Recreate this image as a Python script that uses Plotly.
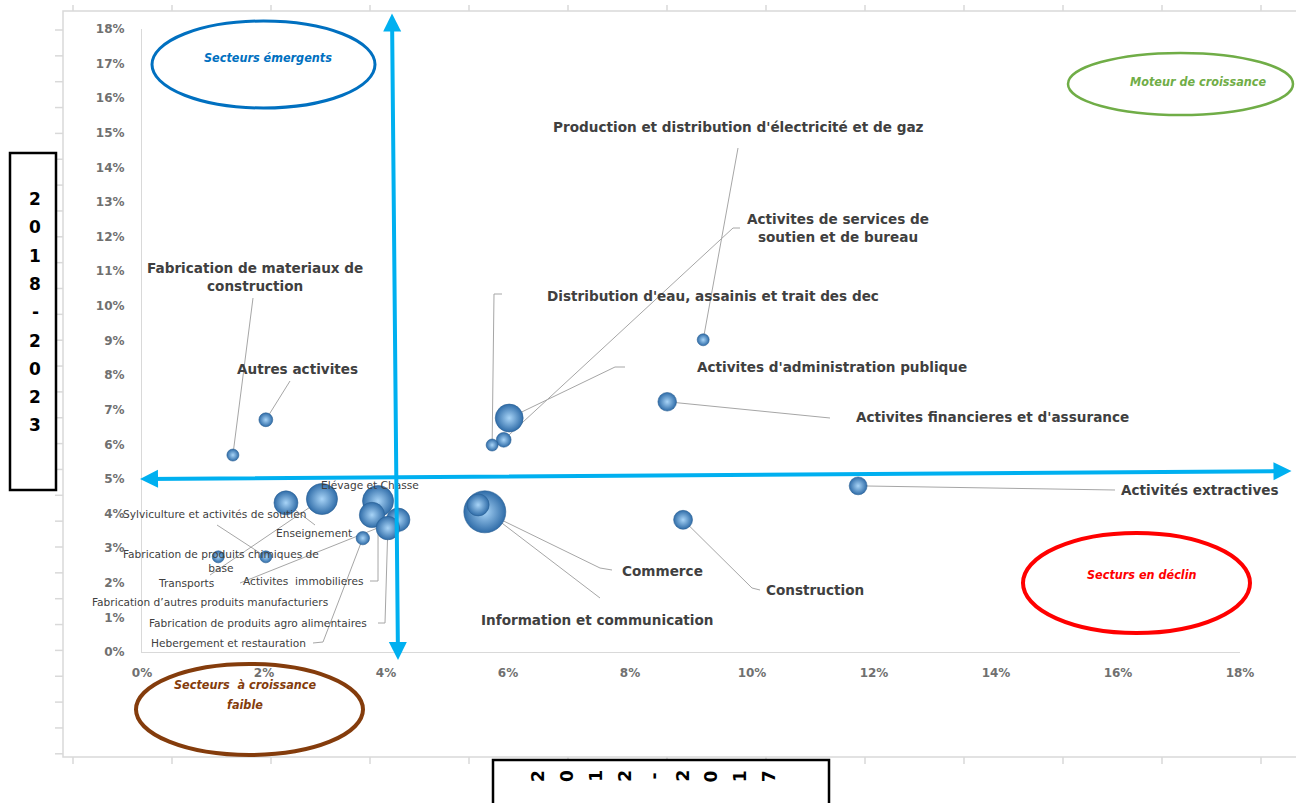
import plotly.graph_objects as go

# ---------------- DATA ----------------
secteurs = [
    "Production et distribution d'électricité et de gaz",
    "Activites de services de soutien et de bureau",
    "Distribution d'eau, assainis et trait des dec",
    "Activites d'administration publique",
    "Activites financieres et d'assurance",
    "Activités extractives",
    "Construction",
    "Commerce",
    "Information et communication",
    "Fabrication de materiaux de construction",
    "Autres activites",
    "Elévage et Chasse",
    "Sylviculture et activités de soutien",
    "Enseignement",
    "Fabrication de produits chimiques de base",
    "Transports",
    "Activites  immobilieres",
    "Fabrication d’autres produits manufacturiers",
    "Fabrication de produits agro alimentaires",
    "Hebergement et restauration",
]
# croissance moyenne 2012-2017 (%) -> axe X
croissance_2012_2017 = [9.20, 5.93, 5.74, 6.02, 8.61, 11.74, 8.87, 5.62, 5.51, 1.49,
                        2.03, 3.77, 2.03, 2.36, 1.25, 2.95, 3.87, 4.20, 4.03, 3.62]
# croissance moyenne 2018-2023 (%) -> axe Y
croissance_2018_2023 = [9.02, 6.13, 5.98, 6.76, 7.23, 4.80, 3.82, 4.05, 4.25, 5.69,
                        6.71, 3.96, 2.75, 4.31, 2.75, 4.42, 4.36, 3.82, 3.58, 3.29]
# poids du secteur (taille des bulles)
poids = [1.1, 1.7, 1.0, 6.1, 2.7, 2.5, 2.8, 13.8, 3.8, 1.1,
         1.5, 5.0, 0.4, 4.5, 0.4, 7.6, 7.6, 4.3, 4.3, 1.4]

x_ticks = list(range(0, 19, 2))
y_ticks = list(range(0, 19, 1))
x_tick_labels = [f"{v}%" for v in x_ticks]
y_tick_labels = [f"{v}%" for v in y_ticks]
x_titre = "2012-2017"
y_titre = "2018-2023"

# ---------------- LAYOUT HELPERS ----------------
W, H = 1296, 803
L, R, T, B = 142, 1240, 29, 652          # plot area in pixels
XMAX, YMAX = 18, 18


def d(px, py):
    """pixel -> data coords"""
    return ((px - L) / (R - L) * XMAX, (B - py) / (B - T) * YMAX)


def p(px, py):
    """pixel -> paper coords"""
    return ((px - L) / (R - L), (B - py) / (B - T))


label_text = {s: s for s in secteurs}
label_text["Activites de services de soutien et de bureau"] = "Activites de services de<br>soutien et de bureau"
label_text["Fabrication de materiaux de construction"] = "Fabrication de materiaux de<br>construction"
label_text["Fabrication de produits chimiques de base"] = "Fabrication de produits chimiques de<br>base"

big = {"Production et distribution d'électricité et de gaz", "Activites de services de soutien et de bureau",
       "Distribution d'eau, assainis et trait des dec", "Activites d'administration publique",
       "Activites financieres et d'assurance", "Activités extractives", "Construction", "Commerce",
       "Information et communication", "Fabrication de materiaux de construction", "Autres activites"}

label_pos = {
    "Production et distribution d'électricité et de gaz": (738, 127),
    "Activites de services de soutien et de bureau": (838, 228),
    "Distribution d'eau, assainis et trait des dec": (713, 296),
    "Activites d'administration publique": (832, 367),
    "Activites financieres et d'assurance": (992, 417),
    "Activités extractives": (1200, 490),
    "Construction": (815, 590),
    "Commerce": (662, 571),
    "Information et communication": (597, 620),
    "Fabrication de materiaux de construction": (255, 277),
    "Autres activites": (297, 369),
    "Elévage et Chasse": (370, 485),
    "Sylviculture et activités de soutien": (214, 514),
    "Enseignement": (314, 533),
    "Fabrication de produits chimiques de base": (221, 561),
    "Transports": (186, 583),
    "Activites  immobilieres": (303, 581),
    "Fabrication d’autres produits manufacturiers": (210, 602),
    "Fabrication de produits agro alimentaires": (258, 623),
    "Hebergement et restauration": (228, 643),
}

leaders = {
    "Production et distribution d'électricité et de gaz": [(738, 148)],
    "Activites de services de soutien et de bureau": [(740, 228), (733, 228)],
    "Distribution d'eau, assainis et trait des dec": [(502, 294), (494, 294)],
    "Activites d'administration publique": [(625, 367), (615, 367)],
    "Activites financieres et d'assurance": [(830, 418)],
    "Activités extractives": [(1115, 490)],
    "Construction": [(760, 590), (752, 588)],
    "Commerce": [(612, 570), (600, 568)],
    "Information et communication": [(600, 598)],
    "Fabrication de materiaux de construction": [(253, 298)],
    "Autres activites": [(290, 381)],
    "Sylviculture et activités de soutien": [(217, 525)],
    "Enseignement": [(315, 525)],
    "Transports": [(210, 575)],
    "Activites  immobilieres": [(370, 581), (378, 581)],
    "Fabrication d’autres produits manufacturiers": [(240, 583)],
    "Fabrication de produits agro alimentaires": [(378, 623), (385, 623)],
    "Hebergement et restauration": [(313, 643), (323, 642)],
}

LABEL_FONT = "DejaVu Sans"
TXT = "#404040"

# ---------------- FIGURE ----------------
order = sorted(range(len(secteurs)), key=lambda i: -poids[i])
xs = [croissance_2012_2017[i] for i in order]
ys = [croissance_2018_2023[i] for i in order]
ss = [poids[i] for i in order]
names = [secteurs[i] for i in order]

fig = go.Figure()
fig.add_trace(go.Scatter(
    x=xs, y=ys, mode="markers", text=names, hoverinfo="text",
    marker=dict(
        size=ss, sizemode="area", sizeref=2 * max(poids) / (42 ** 2), sizemin=6,
        color="#2F6CA8", gradient=dict(type="radial", color="#A8D4F7"),
        line=dict(color="#2A5F94", width=0.6), opacity=1,
    ),
    cliponaxis=False, showlegend=False,
))

shapes = []
annotations = []

# leader lines
for s, pts in leaders.items():
    i = secteurs.index(s)
    coords = [d(*pt) for pt in pts] + [(croissance_2012_2017[i], croissance_2018_2023[i])]
    path = "M " + " L ".join(f"{cx:.4f},{cy:.4f}" for cx, cy in coords)
    shapes.append(dict(type="path", xref="x", yref="y", path=path,
                       line=dict(color="#A6A6A6", width=1), layer="below"))

# data labels
for s in secteurs:
    lx, ly = d(*label_pos[s])
    is_big = s in big
    annotations.append(dict(
        x=lx, y=ly, xref="x", yref="y", text=label_text[s], showarrow=False,
        xanchor="center", yanchor="middle", align="center",
        font=dict(family=LABEL_FONT, size=13.6 if is_big else 10.6, color=TXT,
                  weight="bold" if is_big else "normal"),
    ))

# quadrant divider arrows (double headed)
for (hx, hy), (tx, ty) in (((140, 479), (1293, 471)), ((398, 660), (392, 12))):
    q = p(hx, hy)
    annotations.append(dict(x=q[0], y=q[1], xref="paper", yref="paper", axref="pixel", ayref="pixel",
                            ax=tx - hx, ay=ty - hy, text="", showarrow=True, arrowhead=2,
                            arrowside="end+start", arrowsize=0.9, arrowwidth=4, arrowcolor="#00B0F0",
                            standoff=0, startstandoff=0))

# quadrant ellipses and texts
QFONT = "Liberation Sans Narrow, DejaVu Sans Condensed, sans-serif"
ellipses = [
    ((152, 21, 375, 108), "#0070C0", 3, [("Secteurs émergents", 268, 58)]),
    ((1068, 53, 1293, 115), "#70AD47", 2.5, [("Moteur de croissance", 1198, 81)]),
    ((1023, 533, 1250, 633), "#FF0000", 4, [("Secturs en déclin", 1142, 574)]),
    ((136, 664, 363, 755), "#843C0C", 4, [("Secteurs  à croissance", 245, 684), ("faible", 245, 704)]),
]
for (x0, y0, x1, y1), col, w, texts in ellipses:
    a0 = p(x0, y1)
    a1 = p(x1, y0)
    shapes.append(dict(type="circle", xref="paper", yref="paper", x0=a0[0], y0=a0[1], x1=a1[0], y1=a1[1],
                       line=dict(color=col, width=w), layer="above"))
    for t, tx, ty in texts:
        q = p(tx, ty)
        annotations.append(dict(x=q[0], y=q[1], xref="paper", yref="paper", text=t, showarrow=False,
                                xanchor="center", yanchor="middle",
                                font=dict(family=QFONT, size=12.5, color=col, weight="bold", style="italic")))

# outer chart frame with its tick marks
GREY = "#D9D9D9"
f0 = p(63, 757)
f1 = p(1310, 11)
shapes.append(dict(type="rect", xref="paper", yref="paper", x0=f0[0], y0=f0[1], x1=f1[0], y1=f1[1],
                   line=dict(color=GREY, width=1.5), layer="below"))
k = 0
while 73 + 99 * k < W:
    tx = 73 + 99 * k
    for ya, yb in ((5, 11), (757, 764)):
        a, b = p(tx, ya), p(tx, yb)
        shapes.append(dict(type="line", xref="paper", yref="paper", x0=a[0], y0=a[1], x1=b[0], y1=b[1],
                           line=dict(color=GREY, width=1.5)))
    k += 1
k = 0
while 30 + 25.85 * k < 757:
    ty = 30 + 25.85 * k
    a, b = p(55, ty), p(63, ty)
    shapes.append(dict(type="line", xref="paper", yref="paper", x0=a[0], y0=a[1], x1=b[0], y1=b[1],
                       line=dict(color=GREY, width=1.5)))
    k += 1

# axis title boxes
b0, b1 = p(10, 490), p(56, 153)
shapes.append(dict(type="rect", xref="paper", yref="paper", x0=b0[0], y0=b0[1], x1=b1[0], y1=b1[1],
                   line=dict(color="black", width=2.5), fillcolor="white"))
for j, ch in enumerate(y_titre):
    q = p(35, 199 + 28.3 * j)
    annotations.append(dict(x=q[0], y=q[1], xref="paper", yref="paper", text=ch, showarrow=False,
                            xanchor="center", yanchor="middle",
                            font=dict(family="DejaVu Sans", size=17, color="black", weight="bold")))
c0, c1 = p(493, 830), p(829, 760)
shapes.append(dict(type="rect", xref="paper", yref="paper", x0=c0[0], y0=c0[1], x1=c1[0], y1=c1[1],
                   line=dict(color="black", width=2.5), fillcolor="white"))
for j, ch in enumerate(x_titre):
    q = p(538 + 28.9 * j, 776)
    annotations.append(dict(x=q[0], y=q[1], xref="paper", yref="paper", text=ch, showarrow=False,
                            xanchor="center", yanchor="middle", textangle=-90,
                            font=dict(family="DejaVu Sans", size=17, color="black", weight="bold")))

TICKFONT = dict(family="DejaVu Sans", size=12, color="#707070", weight="bold")
fig.update_layout(
    width=W, height=H,
    margin=dict(l=L, r=W - R, t=T, b=H - B, pad=0),
    paper_bgcolor="white", plot_bgcolor="white",
    shapes=shapes, annotations=annotations,
    xaxis=dict(range=[0, XMAX], tickvals=x_ticks, ticktext=x_tick_labels, showgrid=False, zeroline=False,
               showline=True, linecolor=GREY, linewidth=1, ticks="", ticklabelstandoff=10,
               tickfont=TICKFONT),
    yaxis=dict(range=[0, YMAX], tickvals=y_ticks, ticktext=y_tick_labels, showgrid=False, zeroline=False,
               showline=True, linecolor=GREY, linewidth=1, ticks="", ticklabelstandoff=14,
               tickfont=TICKFONT),
    hovermode="closest",
)

fig.write_html("out.html", config={"displayModeBar": False},
               post_script="document.body.style.margin='0';document.body.style.overflow='hidden';")
